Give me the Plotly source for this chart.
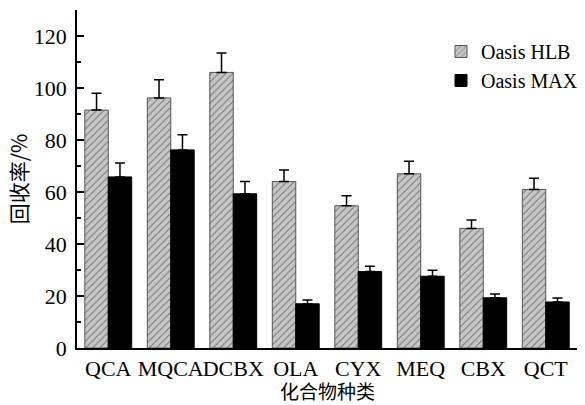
import plotly.graph_objects as go

categories = ["QCA", "MQCA", "DCBX", "OLA", "CYX", "MEQ", "CBX", "QCT"]
hlb_values = [91.5, 96.2, 106.0, 64.0, 54.7, 67.0, 46.0, 61.0]
hlb_errors = [6.5, 7.0, 7.5, 4.5, 3.9, 4.8, 3.2, 4.3]
max_values = [65.8, 76.2, 59.3, 17.0, 29.4, 27.6, 19.3, 17.7]
max_errors = [5.4, 5.8, 4.7, 1.5, 2.0, 2.3, 1.5, 1.5]
series_names = ["Oasis HLB", "Oasis MAX"]
y_title = "回收率/%"
x_title = "化合物种类"
y_ticks = [0, 20, 40, 60, 80, 100, 120]

serif = "Liberation Serif, Times New Roman, serif"
cjk = "Noto Sans CJK SC, sans-serif"

fig = go.Figure()
fig.add_trace(go.Bar(
    x=categories, y=hlb_values, name=series_names[0],
    marker=dict(color="#c6c6c6",
                line=dict(color="#555555", width=1),
                pattern=dict(shape="/", fgcolor="#222222", bgcolor="#c6c6c6",
                             size=5, solidity=0.2)),
    error_y=dict(type="data", array=hlb_errors, arrayminus=[0]*len(hlb_errors),
                 symmetric=False, color="black", thickness=1.5, width=5),
))
fig.add_trace(go.Bar(
    x=categories, y=max_values, name=series_names[1],
    marker=dict(color="black", line=dict(color="black", width=1)),
    error_y=dict(type="data", array=max_errors, arrayminus=[0]*len(max_errors),
                 symmetric=False, color="black", thickness=1.5, width=5),
))

fig.update_layout(
    width=585, height=405,
    margin=dict(l=77, r=8, t=10, b=57, autoexpand=False),
    paper_bgcolor="white", plot_bgcolor="white",
    barmode="group", bargap=0.25, bargroupgap=0,
    font=dict(family=serif, size=22, color="black"),
    legend=dict(x=0.728, y=0.935, xanchor="left", yanchor="top",
                font=dict(family=serif, size=20), bgcolor="rgba(0,0,0,0)",
                tracegroupgap=0, itemwidth=30),
    showlegend=True,
    annotations=[dict(text=x_title, xref="paper", yref="paper", x=0.5, y=-0.127,
                      xanchor="center", yanchor="middle", showarrow=False,
                      borderpad=0,
                      font=dict(family=cjk, size=19, color="black"))],
)
fig.update_xaxes(
    showline=True, linecolor="black", linewidth=1.5, ticks="",
    range=[-0.5, 7.5], showgrid=False, zeroline=False, tickangle=0,
    automargin=False,
    tickfont=dict(family=serif, size=22),
)
fig.update_yaxes(
    showline=True, linecolor="black", linewidth=1.5,
    range=[0, 130], tickvals=y_ticks, ticks="inside", ticklen=7, tickwidth=1.5,
    tickcolor="black", showgrid=False, zeroline=False, automargin=False,
    minor=dict(ticks="inside", ticklen=4, dtick=10, tick0=0, tickcolor="black", tickwidth=1.5),
    tickfont=dict(family=serif, size=22), ticklabelstandoff=4,
    title=dict(text=y_title, font=dict(family=cjk, size=21), standoff=0),
)

fig.write_html("out.html")
